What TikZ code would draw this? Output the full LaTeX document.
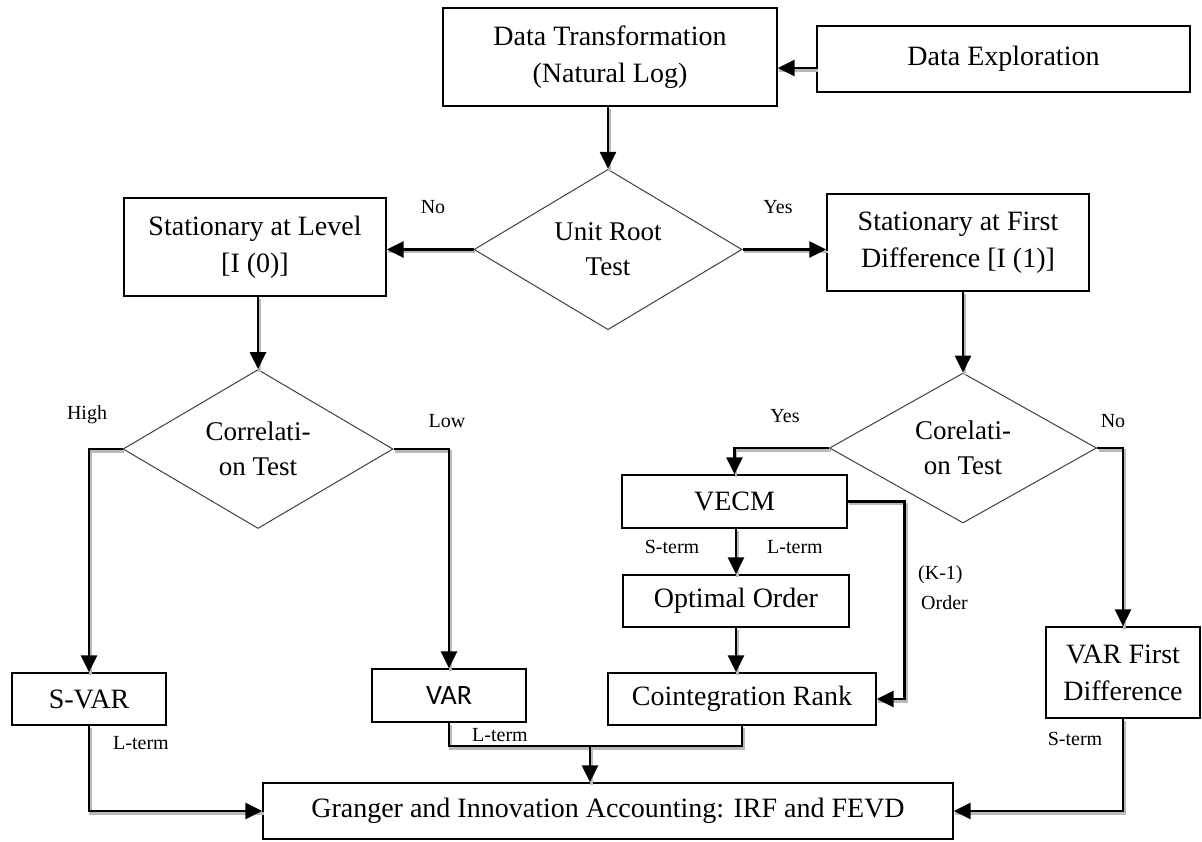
\documentclass[tikz,border=0pt]{standalone}
\usepackage{fontspec}
\setmainfont{Liberation Serif}
\newfontfamily\calfont{Carlito}
\usetikzlibrary{shapes.geometric,arrows.meta,calc}
\begin{document}
\begin{tikzpicture}[x=1pt,y=-1pt,
 box/.style={draw=black, line width=1.3pt, rectangle, inner sep=0pt, align=center, font=\fontsize{28}{37}\selectfont},
 dia/.style={draw=black!75, line width=1pt, diamond, inner sep=0pt, align=center, font=\fontsize{27}{35}\selectfont},
 conn/.style={line width=2.6pt, draw=black, preaction={-, draw=gray!55, line width=2.8pt, transform canvas={shift={(1.5,2.5)}}}},
 arr/.style={conn, -{Triangle[length=17pt,width=16pt]}},
 lab/.style={font=\fontsize{20}{24}\selectfont, inner sep=0pt}]
\useasboundingbox[fill=white] (0,0) rectangle (1202,841);

\node[box, minimum width=334pt, minimum height=98pt] (dt) at (610,57) {Data Transformation\\(Natural Log)};
\node[box, minimum width=373pt, minimum height=66pt] (de) at (1003.5,59) {Data Exploration};
\node[dia, minimum width=268pt, minimum height=149pt] (ur) at (608,249.5) {Unit Root\\Test};
\node[box, minimum width=262pt, minimum height=98pt] (sl) at (255,247) {Stationary at Level\\{[I (0)]}};
\node[box, minimum width=262pt, minimum height=97pt] (sf) at (958,242.5) {Stationary at First\\Difference [I (1)]};
\node[dia, minimum width=270pt, minimum height=148pt] (cl) at (258,449) {Correlati-\\on Test};
\node[dia, minimum width=267pt, minimum height=149pt] (cr) at (963,448) {Corelati-\\on Test};
\node[box, minimum width=154pt, minimum height=52pt] (svar) at (89,699) {S-VAR};
\node[box, minimum width=154pt, minimum height=53pt, font=\calfont\fontsize{28}{34}\selectfont] (var) at (449,695.5) {VAR};
\node[box, minimum width=225pt, minimum height=53pt] (vecm) at (734.5,501.5) {VECM};
\node[box, minimum width=226pt, minimum height=52pt] (opt) at (736,601) {Optimal Order};
\node[box, minimum width=268pt, minimum height=52pt] (coint) at (742,699) {Cointegration Rank};
\node[box, minimum width=154pt, minimum height=91pt] (vfd) at (1123,672.5) {VAR First\\Difference};
\node[box, minimum width=690pt, minimum height=56pt] (gr) at (608,811) {Granger and Innovation Accounting: IRF and FEVD};

\coordinate (y68) at (0,68);
\draw[arr] (de.west |- y68) -- (dt.east |- y68);
\draw[arr] (dt.south -| ur.north) -- (ur.north);
\draw[arr] (ur.west) -- (ur.west -| sl.east);
\draw[arr] (ur.east) -- (ur.east -| sf.west);
\draw[arr] (sl.south -| cl.north) -- (cl.north);
\draw[arr] (sf.south -| cr.north) -- (cr.north);
\draw[arr] (cl.west) -| (svar.north);
\draw[arr] (cl.east) -| (var.north);
\draw[arr] (cr.west) -| (vecm.north);
\draw[arr] (cr.east) -| (vfd.north);
\draw[arr] (vecm.south -| opt.north) -- (opt.north);
\draw[arr] (opt.south) -- (opt.south |- coint.north);
\draw[arr] (vecm.east) -- ++(57,0) |- (coint.east);
\draw[arr] (svar.south) |- (gr.west);
\coordinate (mg) at (590,746);
\draw[conn] (var.south) |- (mg) -| (coint.south);
\draw[arr] (mg) -- (mg |- gr.north);
\draw[arr] (vfd.south) |- (gr.east);

\node[lab] (lno) at (433,207) {No};
\node[lab] (lyes) at (778,207) {Yes};
\node[lab] (lhigh) at (87,415) {High};
\node[lab] (llow) at (447,421) {Low};
\node[lab] (lyes2) at (785,416) {Yes};
\node[lab] (lno2) at (1113,421) {No};
\node[lab] (ls1) at (672,547) {S-term};
\node[lab] (ll1) at (795,547) {L-term};
\node[lab, anchor=west] (lk1) at (918,575) {(K-1)};
\node[lab, anchor=west] (lk2) at (921,603) {Order};
\node[lab] (ll2) at (141,743) {L-term};
\node[lab] (ll3) at (500,735) {L-term};
\node[lab] (ls2) at (1075,739) {S-term};
\end{tikzpicture}
\end{document}
